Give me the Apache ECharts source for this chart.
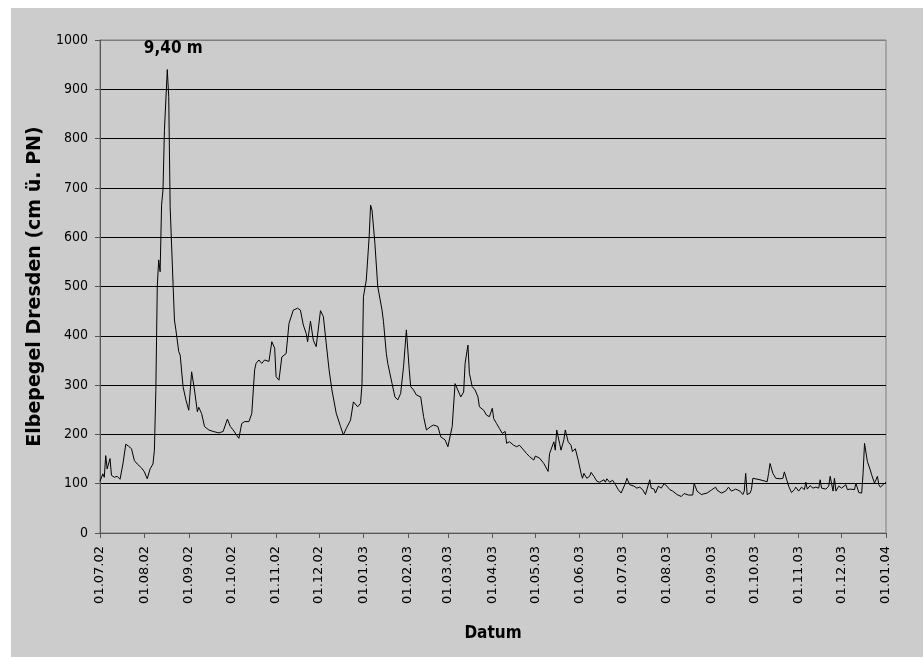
<!DOCTYPE html>
<html>
<head>
<meta charset="utf-8">
<title>Elbepegel Dresden</title>
<script src="https://cdn.jsdelivr.net/npm/echarts@6/dist/echarts.min.js"></script>
<style>
  html, body { margin: 0; padding: 0; background: #ffffff; width: 923px; height: 657px; overflow: hidden; }
  #chart { position: absolute; left: 11px; top: 8px; width: 912px; height: 649px; background: #cccccc; }
</style>
</head>
<body>
<div id="chart"></div>
<script>
// Water level of the Elbe at Dresden, 01.07.2002 - 01.01.2004 (cm above gauge zero)
const startDate = [2002, 6, 1];   // 01.07.02 (month is 0-based)
const endDate = [2004, 0, 1];     // 01.01.04

// days after 01.07.02
const dayOffsets = [
  0, 2, 3, 4, 5, 7, 8, 10, 12, 14, 16, 18, 20, 22, 24, 26, 29, 31, 32, 33,
  35, 37, 38, 39, 40, 41, 42, 43, 44, 45, 47, 48, 49, 51, 52, 53, 55, 56, 58, 60,
  62, 64, 66, 68, 69, 71, 73, 76, 79, 83, 86, 89, 91, 93, 97, 99, 101, 104, 106, 108,
  109, 111, 113, 115, 118, 120, 122, 123, 125, 127, 130, 132, 135, 138, 140, 142, 144, 145, 147, 149,
  151, 154, 156, 158, 160, 162, 165, 168, 170, 172, 175, 177, 180, 182, 183, 184, 186, 188, 189, 190,
  192, 194, 197, 198, 200, 201, 204, 206, 208, 210, 211, 212, 214, 216, 217, 219, 221, 224, 226, 228,
  231, 233, 236, 238, 241, 243, 246, 248, 249, 252, 254, 255, 256, 257, 258, 260, 262, 264, 265, 268,
  270, 272, 274, 275, 277, 279, 281, 283, 284, 286, 289, 291, 293, 296, 298, 300, 301, 303, 304, 307,
  310, 313, 314, 315, 317, 318, 319, 320, 321, 322, 324, 325, 327, 329, 330, 332, 333, 334, 336, 337,
  338, 340, 342, 343, 345, 347, 349, 352, 353, 354, 356, 358, 360, 362, 364, 367, 368, 370, 373, 375,
  377, 379, 381, 382, 384, 385, 387, 388, 390, 392, 394, 396, 398, 400, 403, 406, 408, 411, 414, 415,
  417, 420, 424, 427, 430, 431, 434, 437, 439, 441, 444, 447, 449, 450, 451, 452, 454, 455, 456, 461,
  466, 467, 468, 470, 472, 475, 477, 478, 479, 481, 483, 485, 486, 488, 490, 492, 493, 494, 496, 498,
  500, 502, 503, 504, 507, 509, 510, 512, 513, 514, 516, 518, 521, 522, 524, 527, 528, 530, 532, 533,
  534, 536, 538, 539, 541, 542, 543, 544, 545, 547, 548, 549
];

// gauge level in cm
const levels = [
  105, 120, 113, 157, 130, 151, 117, 113, 115, 109, 140, 180, 176, 171, 147, 140, 132, 124, 120, 110,
  130, 140, 168, 289, 500, 554, 530, 665, 696, 817, 940, 885, 662, 507, 432, 412, 368, 361, 297, 270,
  249, 327, 290, 246, 255, 242, 216, 209, 206, 203, 206, 231, 216, 209, 192, 222, 226, 226, 242, 331,
  344, 351, 344, 351, 348, 388, 375, 317, 310, 357, 364, 425, 452, 456, 452, 422, 405, 388, 430, 391,
  378, 451, 439, 385, 331, 290, 243, 216, 199, 212, 229, 266, 256, 263, 303, 479, 513, 601, 665, 655,
  588, 500, 452, 429, 364, 344, 303, 276, 270, 283, 280, 337, 412, 331, 297, 290, 280, 276, 236, 209,
  216, 219, 216, 195, 189, 175, 216, 303, 307, 276, 286, 344, 341, 381, 324, 297, 290, 276, 256, 249,
  239, 236, 253, 232, 222, 212, 202, 206, 182, 185, 178, 175, 178, 168, 161, 155, 158, 148, 156, 152,
  141, 125, 161, 165, 185, 168, 209, 212, 182, 168, 189, 209, 185, 178, 165, 171, 168, 148, 121, 111,
  121, 111, 115, 123, 115, 105, 103, 108, 103, 110, 103, 107, 98, 88, 81, 101, 111, 98, 95, 91,
  93, 88, 78, 78, 108, 91, 89, 81, 95, 91, 100, 95, 88, 85, 78, 74, 80, 77, 77, 101,
  85, 78, 81, 87, 93, 87, 81, 85, 93, 85, 89, 85, 78, 85, 121, 78, 81, 88, 111, 108,
  104, 121, 141, 121, 111, 110, 111, 124, 124, 95, 82, 88, 93, 85, 93, 88, 103, 89, 96, 91,
  93, 91, 108, 91, 89, 95, 115, 85, 111, 85, 95, 91, 98, 88, 89, 88, 101, 82, 81, 121,
  182, 145, 128, 118, 101, 108, 115, 98, 93, 98, 100, 103
];

const yTicks = { min: 0, max: 1000, interval: 100 };
const peakText = '9,40 m';

// one category per day, labelled dd.mm.yy
const pad = n => (n < 10 ? '0' : '') + n;
const categories = [];
const t0 = Date.UTC(startDate[0], startDate[1], startDate[2]);
const t1 = Date.UTC(endDate[0], endDate[1], endDate[2]);
for (let t = t0; t <= t1; t += 86400000) {
  const d = new Date(t);
  categories.push(pad(d.getUTCDate()) + '.' + pad(d.getUTCMonth() + 1) + '.' + String(d.getUTCFullYear()).slice(2));
}

// daily series; days without a reading stay empty and are bridged
const series = categories.map(() => null);
let peakIdx = 0;
dayOffsets.forEach((d, i) => {
  series[d] = levels[i];
  if (levels[i] > levels[peakIdx]) peakIdx = i;
});

const narrowFont = '"DejaVu Sans Condensed", "Liberation Sans Narrow", "DejaVu Sans", sans-serif';
const isMonthStart = (idx, val) => val.slice(0, 3) === '01.';
const gridLineColors = ['#555555'];
for (let v = yTicks.min + yTicks.interval; v < yTicks.max; v += yTicks.interval) gridLineColors.push('#000000');
gridLineColors.push('#7f7f7f');

const chart = echarts.init(document.getElementById('chart'), null, { renderer: 'canvas' });
chart.setOption({
  backgroundColor: 'transparent',
  animation: false,
  grid: {
    left: 89, right: 37, top: 32, bottom: 124,
    show: true, borderColor: '#7f7f7f', borderWidth: 1, backgroundColor: 'transparent'
  },
  xAxis: {
    type: 'category',
    data: categories,
    boundaryGap: false,
    name: 'Datum',
    nameLocation: 'middle',
    nameGap: 92,
    nameTextStyle: { fontFamily: narrowFont, fontWeight: 'bold', fontSize: 17, color: '#000' },
    axisLine: { show: true, lineStyle: { color: '#555555', width: 1 } },
    axisTick: { show: true, interval: isMonthStart, length: 5, lineStyle: { color: '#555555' } },
    axisLabel: {
      interval: isMonthStart,
      rotate: 90,
      margin: 13,
      fontFamily: '"DejaVu Sans", sans-serif',
      fontSize: 13,
      color: '#000'
    },
    splitLine: { show: false }
  },
  yAxis: {
    type: 'value',
    min: yTicks.min,
    max: yTicks.max,
    interval: yTicks.interval,
    name: 'Elbepegel Dresden (cm ü. PN)',
    nameLocation: 'middle',
    nameGap: 48,
    nameTextStyle: { fontFamily: '"DejaVu Sans", sans-serif', fontWeight: 'bold', fontSize: 19, color: '#000' },
    axisLine: { show: true, lineStyle: { color: '#555555', width: 1 } },
    axisTick: { show: true, length: 5, lineStyle: { color: '#555555' } },
    axisLabel: {
      margin: 12,
      formatter: v => String(v),
      fontFamily: narrowFont,
      fontSize: 14,
      color: '#000'
    },
    splitLine: { show: true, lineStyle: { color: gridLineColors, width: 1 } }
  },
  series: [{
    type: 'line',
    data: series,
    connectNulls: true,
    showSymbol: false,
    symbol: 'none',
    lineStyle: { color: '#000000', width: 1 },
    z: 3,
    markPoint: {
      symbol: 'circle',
      symbolSize: 0,
      silent: true,
      data: [{ coord: [dayOffsets[peakIdx], levels[peakIdx]], value: levels[peakIdx] }],
      label: {
        show: true,
        formatter: peakText,
        position: 'top',
        distance: 13,
        offset: [6, 0],
        fontFamily: narrowFont,
        fontWeight: 'bold',
        fontSize: 17,
        color: '#000'
      }
    }
  }]
});
</script>
</body>
</html>
